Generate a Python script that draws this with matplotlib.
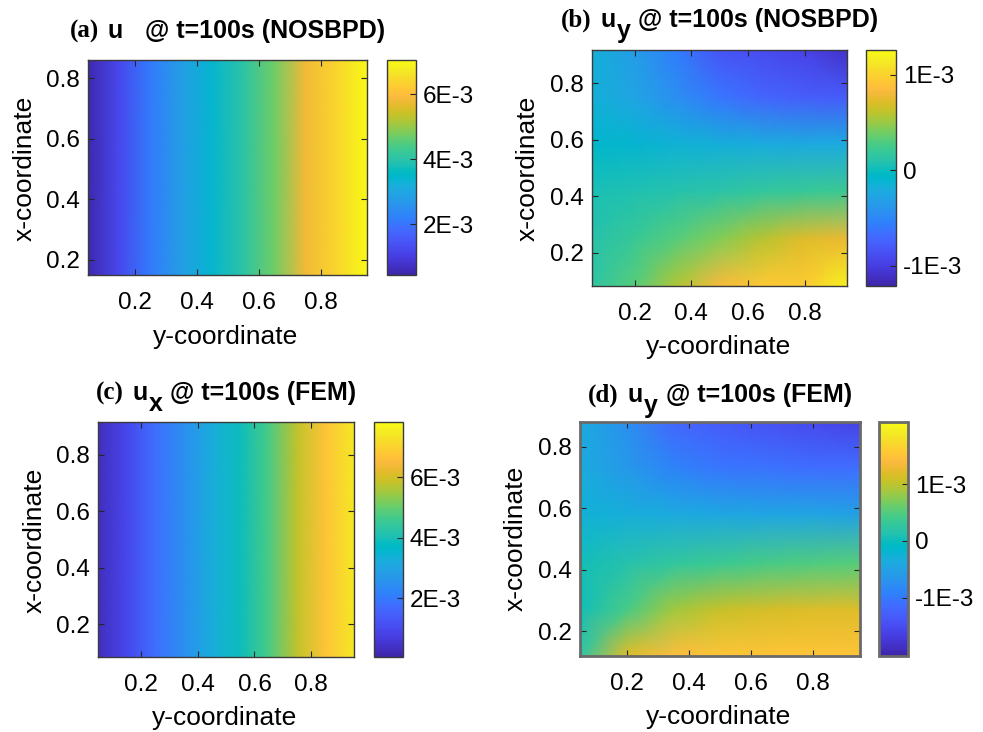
import numpy as np
import matplotlib
matplotlib.use("Agg")
import matplotlib.pyplot as plt
from matplotlib.colors import LinearSegmentedColormap

plt.rcParams['font.family'] = ['Liberation Sans', 'DejaVu Sans']

# ---------------- data (values in 1e-3 units) ----------------
# (a) u_x NOSBPD : varies along y-coordinate only
ycoord_a = [0.05, 0.15, 0.25, 0.35, 0.45, 0.55, 0.65, 0.75, 0.85, 0.95]
xcoord_a = [0.15, 0.86]
ux_nosbpd = [0.5, 1.2, 2.1, 2.8, 3.4, 4.0, 4.7, 5.8, 6.4, 7.0]

# (c) u_x FEM
ycoord_c = [0.05, 0.15, 0.25, 0.35, 0.45, 0.55, 0.65, 0.75, 0.85, 0.95]
xcoord_c = [0.0833, 0.9167]
ux_fem = [0.3, 0.9, 1.76, 2.45, 3.24, 3.9, 4.7, 5.8, 6.7, 7.4]

# (b) u_y NOSBPD : rows = x-coordinate (bottom->top), cols = y-coordinate
ycoord_b = [0.05, 0.2, 0.35, 0.5, 0.65, 0.8, 0.95]
xcoord_b = [0.0833, 0.25, 0.4167, 0.5833, 0.75, 0.9167]
uy_nosbpd = [
    [0.15, 0.32, 0.57, 0.82, 0.94, 0.96, 1.19],
    [0.10, 0.20, 0.32, 0.44, 0.59, 0.72, 0.77],
    [0.05, 0.07, 0.10, 0.13, 0.17, 0.20, 0.22],
    [-0.08, -0.11, -0.14, -0.17, -0.20, -0.22, -0.22],
    [-0.16, -0.27, -0.45, -0.62, -0.72, -0.77, -0.79],
    [-0.16, -0.34, -0.57, -0.84, -0.90, -0.96, -1.09],
]

# (d) u_y FEM
ycoord_d = [0.05, 0.2, 0.35, 0.5, 0.65, 0.8, 0.95]
xcoord_d = [0.12, 0.27, 0.42, 0.58, 0.73, 0.88]
uy_fem = [
    [0.24, 1.19, 1.43, 1.51, 1.51, 1.51, 1.51],
    [0.04, 0.45, 0.86, 1.06, 1.14, 1.19, 1.19],
    [0.04, 0.16, 0.28, 0.36, 0.45, 0.49, 0.53],
    [-0.25, -0.31, -0.38, -0.42, -0.46, -0.46, -0.50],
    [-0.36, -0.62, -0.88, -1.03, -1.07, -1.12, -1.12],
    [-0.36, -0.72, -1.18, -1.32, -1.44, -1.53, -1.61],
]

clim_a = (0.43, 7.05)
clim_b = (-1.21, 1.26)
clim_c = (0.05, 7.82)
clim_d = (-2.02, 2.09)

axis_ticks = [0.2, 0.4, 0.6, 0.8]
axis_ticklabels = ['0.2', '0.4', '0.6', '0.8']
cb_ticks_x = [2.0, 4.0, 6.0]
cb_labels_x = ['2E-3', '4E-3', '6E-3']
cb_ticks_y = [-1.0, 0.0, 1.0]
cb_labels_y = ['-1E-3', '0', '1E-3']

# title pieces: panel tag, variable, subscript, remainder
title_tags = ['(a)', '(b)', '(c)', '(d)']
title_vars = ['u', 'u', 'u', 'u']
title_subs = ['', 'y', 'x', 'y']
title_rest = ['@ t=100s (NOSBPD)', '@ t=100s (NOSBPD)', '@ t=100s (FEM)', '@ t=100s (FEM)']

# ---------------- parula colormap ----------------
parula_list = [
    [0.2422, 0.1504, 0.6603], [0.2504, 0.1650, 0.7076], [0.2578, 0.1818, 0.7511],
    [0.2647, 0.1978, 0.7952], [0.2706, 0.2147, 0.8364], [0.2751, 0.2342, 0.8710],
    [0.2783, 0.2559, 0.8991], [0.2803, 0.2782, 0.9221], [0.2813, 0.3006, 0.9414],
    [0.2810, 0.3228, 0.9579], [0.2795, 0.3447, 0.9717], [0.2760, 0.3667, 0.9829],
    [0.2699, 0.3892, 0.9906], [0.2602, 0.4123, 0.9952], [0.2440, 0.4358, 0.9988],
    [0.2206, 0.4603, 0.9973], [0.1963, 0.4847, 0.9892], [0.1834, 0.5074, 0.9798],
    [0.1786, 0.5289, 0.9682], [0.1764, 0.5499, 0.9520], [0.1687, 0.5703, 0.9359],
    [0.1540, 0.5902, 0.9218], [0.1460, 0.6091, 0.9079], [0.1380, 0.6276, 0.8973],
    [0.1248, 0.6459, 0.8883], [0.1113, 0.6635, 0.8763], [0.0952, 0.6798, 0.8598],
    [0.0689, 0.6948, 0.8394], [0.0297, 0.7082, 0.8163], [0.0036, 0.7203, 0.7917],
    [0.0067, 0.7312, 0.7660], [0.0433, 0.7411, 0.7394], [0.0964, 0.7500, 0.7120],
    [0.1408, 0.7584, 0.6842], [0.1717, 0.7670, 0.6554], [0.1938, 0.7758, 0.6251],
    [0.2161, 0.7843, 0.5923], [0.2470, 0.7918, 0.5567], [0.2906, 0.7973, 0.5188],
    [0.3406, 0.8008, 0.4789], [0.3909, 0.8029, 0.4354], [0.4456, 0.8024, 0.3909],
    [0.5044, 0.7993, 0.3480], [0.5616, 0.7942, 0.3045], [0.6174, 0.7876, 0.2612],
    [0.6720, 0.7793, 0.2227], [0.7242, 0.7698, 0.1910], [0.7738, 0.7598, 0.1646],
    [0.8203, 0.7498, 0.1535], [0.8634, 0.7406, 0.1596], [0.9035, 0.7330, 0.1774],
    [0.9393, 0.7288, 0.2100], [0.9728, 0.7298, 0.2394], [0.9956, 0.7434, 0.2371],
    [0.9970, 0.7659, 0.2199], [0.9952, 0.7893, 0.2028], [0.9892, 0.8136, 0.1885],
    [0.9786, 0.8386, 0.1766], [0.9676, 0.8639, 0.1643], [0.9610, 0.8890, 0.1537],
    [0.9597, 0.9135, 0.1423], [0.9628, 0.9373, 0.1265], [0.9691, 0.9606, 0.1064],
    [0.9769, 0.9839, 0.0805]]
parula = LinearSegmentedColormap.from_list('parula', parula_list, N=256)

W, H = 983, 732
fig = plt.figure(figsize=(W / 100, H / 100), dpi=100)


def px(x0, y0, x1, y1):
    return [x0 / W, 1 - y1 / H, (x1 - x0) / W, (y1 - y0) / H]


panels = [
    dict(ax=px(88, 60, 367, 275), cax=px(387, 60, 416, 275),
         yc=ycoord_a, xc=xcoord_a, Z=np.tile(ux_nosbpd, (len(xcoord_a), 1)),
         clim=clim_a, ct=cb_ticks_x, cl=cb_labels_x, xlim=(0.05, 0.95), ylim=(0.15, 0.86),
         tb=38, ylab=(25, 168), xlab=(226, 337), ec='#3a3a3a', lw=1.0),
    dict(ax=px(592, 50, 847, 286), cax=px(866, 50, 896, 286),
         yc=ycoord_b, xc=xcoord_b, Z=np.array(uy_nosbpd),
         clim=clim_b, ct=cb_ticks_y, cl=cb_labels_y, xlim=(0.05, 0.95), ylim=(0.0833, 0.9167),
         tb=27, ylab=(528, 168), xlab=(719, 347), ec='#3a3a3a', lw=1.0),
    dict(ax=px(98, 422, 354, 657), cax=px(374, 422, 403, 657),
         yc=ycoord_c, xc=xcoord_c, Z=np.tile(ux_fem, (len(xcoord_c), 1)),
         clim=clim_c, ct=cb_ticks_x, cl=cb_labels_x, xlim=(0.05, 0.95), ylim=(0.0833, 0.9167),
         tb=400, ylab=(35, 540), xlab=(225, 718), ec='#3a3a3a', lw=1.0),
    dict(ax=px(580, 422, 860, 656), cax=px(879, 422, 908, 656),
         yc=ycoord_d, xc=xcoord_d, Z=np.array(uy_fem),
         clim=clim_d, ct=cb_ticks_y, cl=cb_labels_y, xlim=(0.05, 0.95), ylim=(0.12, 0.88),
         tb=402, ylab=(516, 538), xlab=(719, 717), ec='#6a6a6a', lw=2.0),
]

renderer = fig.canvas.get_renderer()
FS = 17.5
LFS = 19
TFS = 18
for i, p in enumerate(panels):
    ax = fig.add_axes(p['ax'])
    YY, XX = np.meshgrid(p['yc'], p['xc'])
    m = ax.pcolormesh(YY, XX, p['Z'], cmap=parula, vmin=p['clim'][0], vmax=p['clim'][1],
                      shading='gouraud')
    ax.set_xlim(*p['xlim'])
    ax.set_ylim(*p['ylim'])
    ax.set_xticks(axis_ticks)
    ax.set_xticklabels(axis_ticklabels)
    ax.set_yticks(axis_ticks)
    ax.set_yticklabels(axis_ticklabels)
    ax.tick_params(axis='both', direction='in', top=True, right=True, length=4,
                   width=0.8, labelsize=FS, color='#262626')
    ax.tick_params(axis='x', pad=12)
    ax.tick_params(axis='y', pad=6)
    for s in ax.spines.values():
        s.set_color(p['ec'])
        s.set_linewidth(p['lw'])

    cax = fig.add_axes(p['cax'])
    cb = fig.colorbar(m, cax=cax)
    cb.set_ticks(p['ct'])
    cb.set_ticklabels(p['cl'])
    cax.tick_params(direction='in', length=4, width=0.8, labelsize=FS, pad=5, color='#262626')
    cb.outline.set_edgecolor(p['ec'])
    cb.outline.set_linewidth(p['lw'])

    fig.text(p['ylab'][0] / W, 1 - p['ylab'][1] / H, 'x-coordinate', rotation=90,
             ha='center', va='center', fontsize=LFS)
    fig.text(p['xlab'][0] / W, 1 - p['xlab'][1] / H, 'y-coordinate',
             ha='center', va='center', fontsize=LFS)

    # title built from pieces: serif tag, bold sans variable, lowered subscript, remainder
    yb = p['tb']
    pieces = []
    pieces.append((fig.text(0, 1 - yb / H, title_tags[i], family='Liberation Serif',
                            weight='bold', fontsize=TFS, va='baseline', ha='left'), 0))
    pieces.append((fig.text(0, 1 - yb / H, title_vars[i], weight='bold', fontsize=TFS,
                            va='baseline', ha='left'), 9))
    if title_subs[i]:
        pieces.append((fig.text(0, 1 - (yb + 11) / H, title_subs[i], weight='bold',
                                fontsize=TFS, va='baseline', ha='left'), 1))
        rest_gap = 8
    else:
        rest_gap = 22
    pieces.append((fig.text(0, 1 - yb / H, title_rest[i], weight='bold', fontsize=TFS,
                            va='baseline', ha='left'), rest_gap))
    widths = [t.get_window_extent(renderer).width for t, _ in pieces]
    total = sum(widths) + sum(g for _, g in pieces)
    cx = (p['ax'][0] + p['ax'][2] / 2) * W
    xcur = cx - total / 2
    for (t, g), w in zip(pieces, widths):
        xcur += g
        t.set_x(xcur / W)
        xcur += w

fig.savefig('out.png', dpi=100)
